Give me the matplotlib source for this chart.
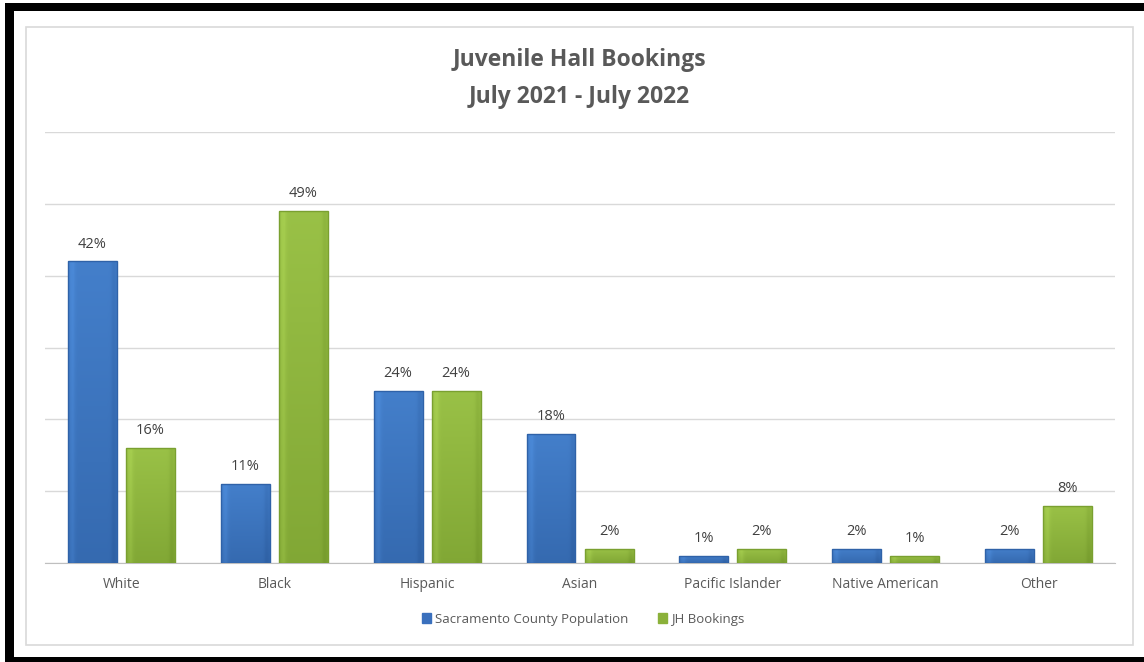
import numpy as np
import matplotlib.pyplot as plt
from matplotlib.patches import Rectangle
from matplotlib.colors import LinearSegmentedColormap

# Juvenile hall bookings vs county population, by race/ethnicity
categorias = ["White", "Black", "Hispanic", "Asian", "Pacific Islander", "Native American", "Other"]
poblacion = [42, 11, 24, 18, 1, 2, 2]
reservas = [16, 49, 24, 2, 2, 1, 8]
series = ["Sacramento County Population", "JH Bookings"]

plt.rcParams['font.family'] = ['Open Sans', 'DejaVu Sans']

fig = plt.figure(figsize=(11.44, 6.62), dpi=100)
fig.patch.set_facecolor('white')

# black frame and light chart border
W, H = 1144, 662
def px_rect(x0, y0, x1, y1, **kw):
    r = Rectangle((x0 / W, 1 - y1 / H), (x1 - x0) / W, (y1 - y0) / H,
                  transform=fig.transFigure, **kw)
    fig.add_artist(r)

px_rect(5, 3, 1144, 11, color='black', lw=0)
px_rect(5, 3, 14, 662, color='black', lw=0)
px_rect(5, 657, 1144, 662, color='black', lw=0)
px_rect(26, 27, 1133, 645, facecolor='none', edgecolor='#d9d9d9', lw=1.2)

ax = fig.add_axes([45 / W, 99 / H, 1070 / W, 431 / H])
x = np.arange(len(categorias))
ancho = 0.32
desp = 0.19

b1 = ax.bar(x - desp, poblacion, ancho, color='#3a70bd', zorder=3)
b2 = ax.bar(x + desp, reservas, ancho, color='#8bb13a', zorder=3)

# shaded fill inside each bar
def sombreado(barras, claro, oscuro, borde):
    cmap = LinearSegmentedColormap.from_list('g', [oscuro, claro])
    ny, nx = 60, 40
    yy = np.linspace(0, 1, ny)[:, None]
    xx = np.linspace(0, 1, nx)[None, :]
    grad = 0.35 + 0.45 * yy + 0.25 * np.exp(-((xx - 0.08) / 0.06) ** 2) - 0.2 * np.exp(-((xx - 0.95) / 0.06) ** 2)
    grad = np.clip(grad, 0, 1)
    for b in barras:
        x0, w, h = b.get_x(), b.get_width(), b.get_height()
        im = ax.imshow(grad, extent=(x0, x0 + w, 0, h), origin='lower',
                       cmap=cmap, vmin=0, vmax=1, aspect='auto', zorder=4)
        im.set_clip_path(b)
        ax.add_patch(Rectangle((x0, 0), w, h, facecolor='none',
                               edgecolor=borde, lw=1.0, zorder=5))

sombreado(b1, '#4a88d6', '#2a5a9c', '#2f62a8')
sombreado(b2, '#a4cc4e', '#6f9428', '#7aa030')

for barras in (b1, b2):
    for b in barras:
        ax.annotate(f"{int(b.get_height())}%", (b.get_x() + b.get_width() / 2, b.get_height()),
                    xytext=(0, 7), textcoords='offset points', ha='center', va='bottom',
                    fontsize=10.5, color='#404040', zorder=6)

ax.set_xlim(-0.5, len(categorias) - 0.5)
ax.set_ylim(0, 60)
ax.set_yticks(np.arange(0, 61, 10))
ax.yaxis.grid(True, color='#d9d9d9', lw=1, zorder=0)
ax.tick_params(axis='y', left=False, labelleft=False)
ax.set_xticks(x)
ax.set_xticklabels(categorias, fontsize=10, color='#595959')
ax.tick_params(axis='x', length=0, pad=10)
for s in ['top', 'right', 'left']:
    ax.spines[s].set_visible(False)
ax.spines['bottom'].set_color('#bfbfbf')
ax.set_facecolor('none')

fig.text(579 / W, 1 - 60 / H, "Juvenile Hall Bookings", ha='center', va='center',
         fontsize=16.5, fontweight='bold', color='#595959')
fig.text(579 / W, 1 - 97 / H, "July 2021 - July 2022", ha='center', va='center',
         fontsize=16.5, fontweight='bold', color='#595959')

handles = [Rectangle((0, 0), 1, 1, color='#3a70bd'), Rectangle((0, 0), 1, 1, color='#8bb13a')]
fig.legend(handles, series, loc='center', bbox_to_anchor=(583 / W, 1 - 619 / H), ncol=2,
           frameon=False, fontsize=9.5, labelcolor='#595959', handlelength=0.7,
           handleheight=0.7, handletextpad=0.3, columnspacing=2.2)

plt.savefig('out.png', dpi=100)
